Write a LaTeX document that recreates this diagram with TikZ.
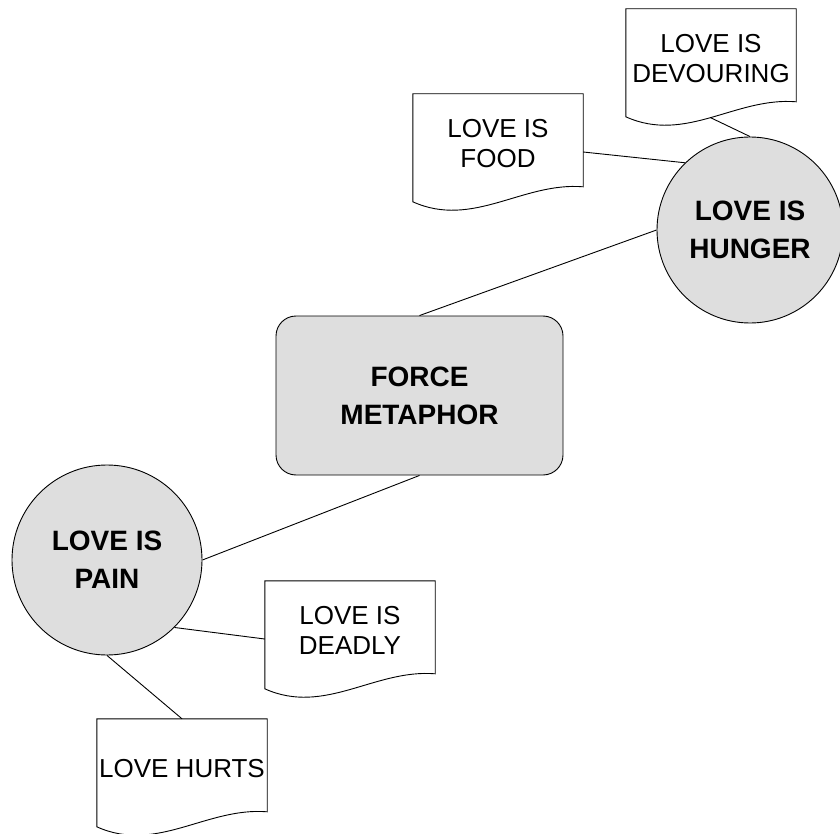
\documentclass[tikz,border=0pt]{standalone}
\usepackage{xcolor}
\usepackage{fontspec}
\setmainfont{Liberation Sans}
\usepackage{tikz}
\definecolor{bubblegray}{gray}{0.87}
\tikzstyle{metaphor} = [rectangle, rounded corners=20pt, minimum width=287pt, minimum height=159pt, text centered, align=center, draw=black, line width=0.9pt, fill=bubblegray, font=\bfseries\fontsize{28}{38}\selectfont]
\tikzstyle{mapping} = [circle, inner sep=0pt, text centered, align=center, draw=black, line width=0.9pt, fill=bubblegray, font=\bfseries\fontsize{28}{38}\selectfont]
\tikzstyle{example} = [rectangle, minimum width=170pt, minimum height=116pt, inner sep=0pt, text depth=18pt, text centered, align=center, font=\fontsize{26}{30}\selectfont]
\tikzstyle{docline} = [draw=black, line width=0.9pt]
\tikzstyle{link} = [line width=0.9pt]
% outline of a document shape round an example node
\newcommand{\docoutline}[1]{%
  \draw[docline] (#1.north west) -- ([yshift=-108pt]#1.north west)
    .. controls ([xshift=60pt,yshift=-135pt]#1.north west) and ([xshift=110pt,yshift=-88pt]#1.north west) .. ([yshift=-93pt]#1.north east)
    -- (#1.north east) -- cycle;
  \coordinate (#1-wave) at ([xshift=85pt,yshift=-109pt]#1.north west);}

\begin{document}
\begin{tikzpicture}[x=1pt, y=-1pt]
		\useasboundingbox (0,0) rectangle (840,834);
		%metaphor and its two mappings
		\node[metaphor](force) at (419.5,395.5){FORCE\\METAPHOR};
		\node[mapping, minimum size=186pt](hunger) at (750,230){LOVE IS\\HUNGER};
		\node[mapping, minimum size=190pt](pain) at (107,560){LOVE IS\\PAIN};
		%examples
		\node[example](food) at (498,152){LOVE IS\\FOOD};
		\node[example](devour) at (711,67){LOVE IS\\DEVOURING};
		\node[example](deadly) at (350,639){LOVE IS\\DEADLY};
		\node[example](hurts) at (182,777){LOVE HURTS};
		\docoutline{food}
		\docoutline{devour}
		\docoutline{deadly}
		\docoutline{hurts}
		%links
		\draw [link] (force.north) -- (hunger.west);
		\draw [link] (force.south) -- (pain.east);
		\draw [link] (food.east) -- (hunger.134);
		\draw [link] (devour-wave) -- (hunger.north);
		\draw [link] (deadly.west) -- (pain.-45);
		\draw [link] (hurts.north) -- (pain.south);
\end{tikzpicture}
\end{document}
